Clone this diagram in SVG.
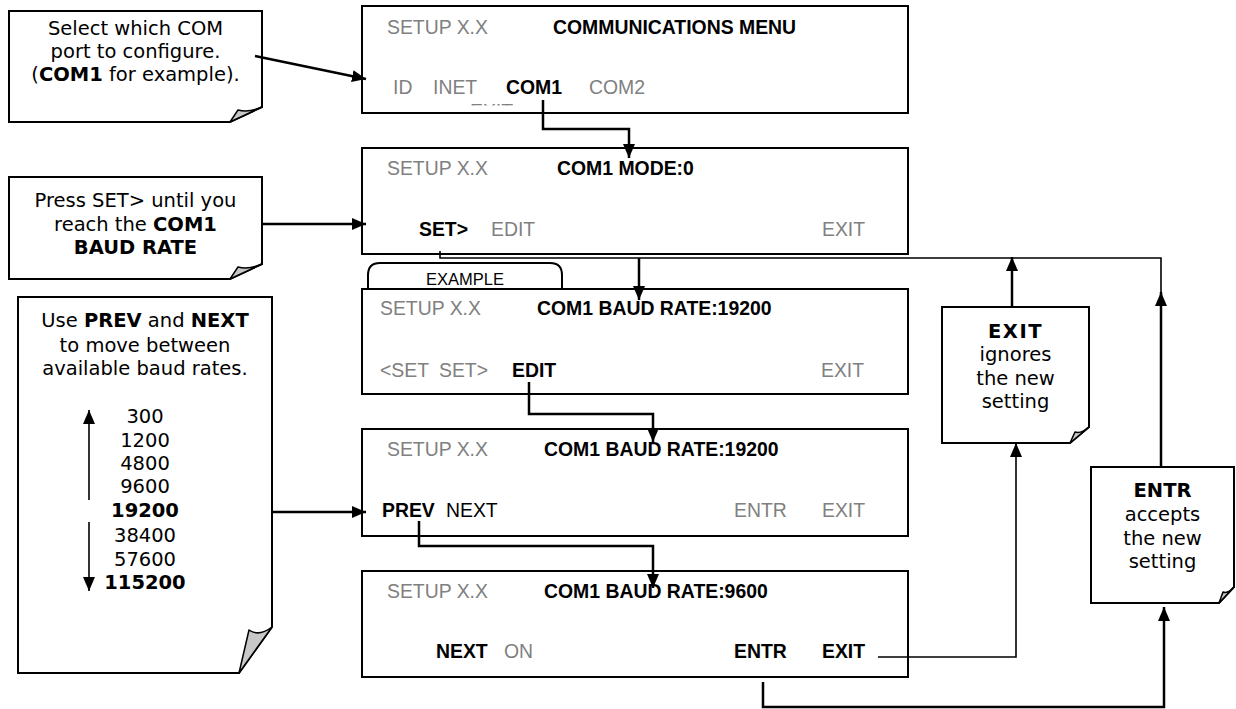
<svg xmlns="http://www.w3.org/2000/svg" width="1236" height="709" viewBox="0 0 1236 709">
<style>
.box{fill:#fff;stroke:#000;stroke-width:2}
.note{fill:#fff;stroke:#000;stroke-width:2;stroke-linejoin:miter}
.flap{fill:#c8c8c8;stroke:#000;stroke-width:1.5;stroke-linejoin:round}
.scr{font-family:"Liberation Sans",Arial,sans-serif;font-size:19.4px}
.g{fill:#808080}
.k{fill:#000}
.b{font-weight:bold;fill:#000}
.nt{font-family:"DejaVu Sans",Verdana,sans-serif;font-size:19.5px;fill:#000;text-anchor:middle}
.conn{fill:none;stroke:#000;stroke-width:2.5}
.thin{fill:none;stroke:#000;stroke-width:1.6}
</style>
<defs>
<marker id="ah" viewBox="0 0 14 12" refX="14" refY="6" markerWidth="14" markerHeight="12" markerUnits="userSpaceOnUse" orient="auto">
<path d="M0,0 L14,6 L0,12 Z" fill="#000"/>
</marker>
<clipPath id="artclip"><rect x="460" y="102.5" width="60" height="3"/></clipPath>
</defs>
<rect width="1236" height="709" fill="#fff"/>

<g id="note-select">
<path class="note" d="M9,11 H262 V107 L230,122 H9 Z"/>
<path class="flap" d="M230,122 L238,110 Q249,113 262,107 Z"/>
<text class="nt" x="135.5" y="35">Select which COM</text>
<text class="nt" x="135.5" y="58">port to configure.</text>
<text class="nt" x="135.5" y="81">(<tspan font-weight="bold">COM1</tspan> for example).</text>
</g>

<g id="note-press">
<path class="note" d="M9,177 H262 V264 L230,279 H9 Z"/>
<path class="flap" d="M230,279 L238,267 Q249,270 262,264 Z"/>
<text class="nt" x="135.5" y="207">Press SET&gt; until you</text>
<text class="nt" x="135.5" y="231">reach the <tspan font-weight="bold">COM1</tspan></text>
<text class="nt" x="135.5" y="254" font-weight="bold">BAUD RATE</text>
</g>

<g id="note-prevnext">
<path class="note" d="M18,297 H272 V627 L239,673 H18 Z"/>
<path class="flap" d="M239,673 L249,630 Q259,637 272,627 Z"/>
<text class="nt" x="145" y="327">Use <tspan font-weight="bold">PREV</tspan> and <tspan font-weight="bold">NEXT</tspan></text>
<text class="nt" x="145" y="352">to move between</text>
<text class="nt" x="145" y="375">available baud rates.</text>
<text class="nt" x="145" y="423">300</text>
<text class="nt" x="145" y="447">1200</text>
<text class="nt" x="145" y="470">4800</text>
<text class="nt" x="145" y="493">9600</text>
<text class="nt" x="145" y="517" font-weight="bold">19200</text>
<text class="nt" x="145" y="542">38400</text>
<text class="nt" x="145" y="566">57600</text>
<text class="nt" x="145" y="589" font-weight="bold">115200</text>
<path class="thin" d="M89,500 V410" stroke-width="2" marker-end="url(#ah)"/>
<path class="thin" d="M89,522 V591" stroke-width="2" marker-end="url(#ah)"/>
</g>

<g id="screen-commmenu">
<rect class="box" x="362" y="6" width="546" height="107"/>
<text class="scr g" x="387" y="34">SETUP X.X</text>
<text class="scr b" x="553" y="34">COMMUNICATIONS MENU</text>
<text class="scr g" x="470" y="118" clip-path="url(#artclip)">EXIT</text>
<text class="scr g" x="393" y="94">ID</text>
<text class="scr g" x="433" y="94">INET</text>
<text class="scr b" x="506" y="94">COM1</text>
<text class="scr g" x="589" y="94">COM2</text>
</g>

<g id="screen-mode">
<rect class="box" x="362" y="148" width="546" height="106"/>
<text class="scr g" x="387" y="175">SETUP X.X</text>
<text class="scr b" x="557" y="175">COM1 MODE:0</text>
<text class="scr b" x="419" y="236">SET&gt;</text>
<text class="scr g" x="491" y="236">EDIT</text>
<text class="scr g" x="822" y="236">EXIT</text>
</g>

<g id="screen-baud-example">
<path class="box" d="M368,289 V275 Q368,263 380,263 H550 Q562,263 562,275 V289"/>
<text x="465" y="285" text-anchor="middle" font-family="Liberation Sans, Arial, sans-serif" font-size="16.5" fill="#000">EXAMPLE</text>
<rect class="box" x="362" y="289" width="546" height="105"/>
<text class="scr g" x="380" y="315">SETUP X.X</text>
<text class="scr b" x="537" y="315">COM1 BAUD RATE:19200</text>
<text class="scr g" x="380" y="377">&lt;SET</text>
<text class="scr g" x="439" y="377">SET&gt;</text>
<text class="scr b" x="512" y="377">EDIT</text>
<text class="scr g" x="821" y="377">EXIT</text>
</g>

<g id="screen-baud-edit">
<rect class="box" x="362" y="429" width="546" height="107"/>
<text class="scr g" x="387" y="456">SETUP X.X</text>
<text class="scr b" x="544" y="456">COM1 BAUD RATE:19200</text>
<text class="scr b" x="382" y="517">PREV</text>
<text class="scr k" x="446" y="517">NEXT</text>
<text class="scr g" x="734" y="517">ENTR</text>
<text class="scr g" x="822" y="517">EXIT</text>
</g>

<g id="screen-baud-9600">
<rect class="box" x="362" y="571" width="546" height="106"/>
<text class="scr g" x="387" y="598">SETUP X.X</text>
<text class="scr b" x="544" y="598">COM1 BAUD RATE:9600</text>
<text class="scr b" x="436" y="658">NEXT</text>
<text class="scr g" x="504" y="658">ON</text>
<text class="scr b" x="734" y="658">ENTR</text>
<text class="scr b" x="822" y="658">EXIT</text>
</g>

<g id="note-exit">
<path class="note" d="M942,307 H1089 V427 L1070,443 H942 Z"/>
<path class="flap" d="M1070,443 L1075,432 Q1081,434 1089,427 Z"/>
<text class="nt" x="1015.5" y="338" font-weight="bold" letter-spacing="1.5">EXIT</text>
<text class="nt" x="1015.5" y="361">ignores</text>
<text class="nt" x="1015.5" y="385">the new</text>
<text class="nt" x="1015.5" y="408">setting</text>
</g>

<g id="note-entr">
<path class="note" d="M1091,467 H1234 V587 L1219,603 H1091 Z"/>
<path class="flap" d="M1219,603 L1223,592 Q1228,594 1234,587 Z"/>
<text class="nt" x="1162.5" y="497" font-weight="bold">ENTR</text>
<text class="nt" x="1162.5" y="521">accepts</text>
<text class="nt" x="1162.5" y="545">the new</text>
<text class="nt" x="1162.5" y="568">setting</text>
</g>

<g id="connectors">
<path class="conn" d="M255,56 L366,79" marker-end="url(#ah)"/>
<path class="conn" d="M263,224 H366" marker-end="url(#ah)"/>
<path class="conn" d="M272,512 H366" marker-end="url(#ah)"/>
<path class="conn" d="M543,100 V129 H629 V158" marker-end="url(#ah)"/>
<path class="thin" d="M440,251 V258 H1161 V293"/>
<path class="conn" d="M639,258 V300" marker-end="url(#ah)"/>
<path class="conn" d="M529,382 V414 H653 V442" marker-end="url(#ah)"/>
<path class="conn" d="M419,521 V546 H653 V588" marker-end="url(#ah)"/>
<path class="thin" d="M878,657 H1016 V443" stroke-width="2" marker-end="url(#ah)"/>
<path class="conn" d="M763,682 V707 H1164 V607" marker-end="url(#ah)"/>
<path class="conn" d="M1012,307 V257" marker-end="url(#ah)"/>
<path class="conn" d="M1161,467 V292" marker-end="url(#ah)"/>
</g>
</svg>
